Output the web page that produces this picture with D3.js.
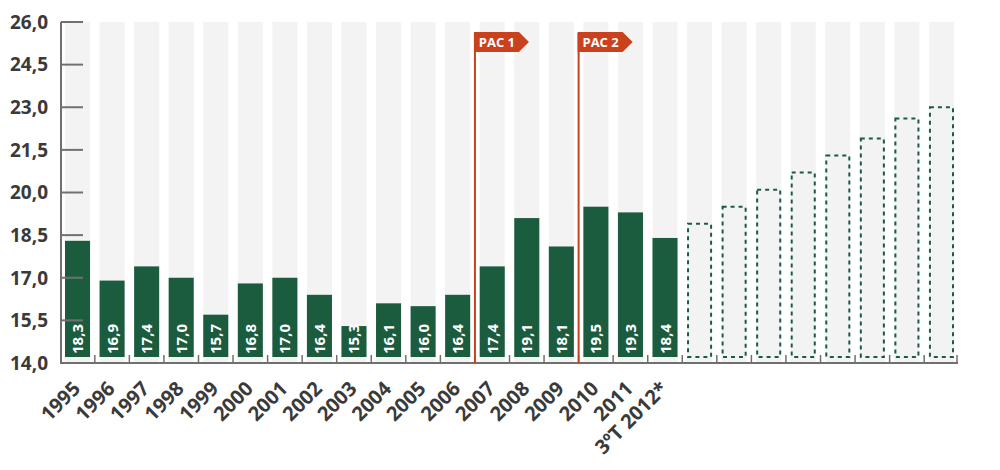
<!DOCTYPE html>
<html><head><meta charset="utf-8">
<script src="https://cdn.jsdelivr.net/npm/d3@7"></script>
<style>
body{margin:0;background:#fff}
text{font-family:"Open Sans","Noto Sans",sans-serif;font-weight:700}
</style>
</head><body>
<svg id="c" width="1000" height="470"></svg>
<script>
const categories = ["1995","1996","1997","1998","1999","2000","2001","2002","2003","2004","2005","2006","2007","2008","2009","2010","2011","3ºT 2012*"];
const values = [18.3,16.9,17.4,17.0,15.7,16.8,17.0,16.4,15.3,16.1,16.0,16.4,17.4,19.1,18.1,19.5,19.3,18.4];
const projected = [18.9,19.5,20.1,20.7,21.3,21.9,22.6,23.0];
const yTicks = [14,15.5,17,18.5,20,21.5,23,24.5,26];
const pacLabels = ["PAC 1","PAC 2"];
const pacStart = ["2007","2010"];

const svg = d3.select("#c");
const projKeys = projected.map((d,i)=>"p"+i);
const slots = categories.concat(projKeys);

const x = d3.scaleBand().domain(slots).range([61,958]).paddingInner(0.275).paddingOuter(0.116);
const y = d3.scaleLinear().domain([14,26]).range([363,22]);
const fmt = v => d3.format(".1f")(v).replace(".", ",");
const green = "#1b5c3f", red = "#c9421d", axisCol = "#707070", txtCol = "#3a3a3a";
const base = y(14), barBottom = y(14) - 6;

// background columns
svg.append("g").selectAll("rect").data(slots).join("rect")
  .attr("x", d=>x(d)).attr("width", x.bandwidth())
  .attr("y", y(26)).attr("height", base - y(26))
  .attr("fill", "#f3f3f3");

// actual bars
svg.append("g").selectAll("rect").data(categories).join("rect")
  .attr("x", d=>x(d)).attr("width", x.bandwidth())
  .attr("y", (d,i)=>y(values[i])).attr("height", (d,i)=>barBottom - y(values[i]))
  .attr("fill", green);

// bar value labels
svg.append("g").selectAll("text").data(categories).join("text")
  .attr("transform", d=>`translate(${x(d)+x.bandwidth()/2+5.5},${barBottom-3}) rotate(-90)`)
  .attr("fill", "#fff").attr("font-size", 15).attr("text-anchor","start")
  .text((d,i)=>fmt(values[i]));

// projected dashed bars
svg.append("g").selectAll("rect").data(projKeys).join("rect")
  .attr("x", d=>x(d)+1).attr("width", x.bandwidth()-2)
  .attr("y", (d,i)=>y(projected[i])).attr("height", (d,i)=>barBottom - y(projected[i]))
  .attr("fill", "none").attr("stroke", green).attr("stroke-width", 2)
  .attr("stroke-dasharray", "4,4");

// y axis
const yAxis = svg.append("g");
yAxis.append("line").attr("x1",61).attr("x2",61).attr("y1",y(26)).attr("y2",base)
  .attr("stroke",axisCol).attr("stroke-width",2);
yAxis.selectAll("line.t").data(yTicks.filter(t=>t>14)).join("line").attr("class","t")
  .attr("x1",61).attr("x2",83).attr("y1",d=>y(d)).attr("y2",d=>y(d))
  .attr("stroke",axisCol).attr("stroke-width",2);
yAxis.selectAll("text").data(yTicks).join("text")
  .attr("x",48).attr("y",d=>y(d)).attr("dy","0.36em").attr("text-anchor","end")
  .attr("font-size",19).attr("fill",txtCol).text(d=>fmt(d));

// x axis line and ticks
const xAxis = svg.append("g");
xAxis.append("line").attr("x1",60).attr("x2",958).attr("y1",base).attr("y2",base)
  .attr("stroke",axisCol).attr("stroke-width",2);
const gap = x.step()*x.paddingInner();
const bounds = slots.slice(1).map(d=>x(d)-gap/2).concat([957]);
xAxis.selectAll("line.t").data(bounds).join("line").attr("class","t")
  .attr("x1",d=>d).attr("x2",d=>d).attr("y1",base-8).attr("y2",base)
  .attr("stroke",axisCol).attr("stroke-width",1.5);

// x labels
svg.append("g").selectAll("text").data(categories).join("text")
  .attr("transform", d=>`translate(${x(d)+x.bandwidth()/2+4},${base+27}) rotate(-45)`)
  .attr("text-anchor","end").attr("font-size",20).attr("fill",txtCol)
  .text(d=>d);

// PAC flags
pacStart.forEach((c,i)=>{
  const px = x(c) - gap/2;
  const g = svg.append("g");
  g.append("line").attr("x1",px).attr("x2",px).attr("y1",33).attr("y2",base)
    .attr("stroke",red).attr("stroke-width",2);
  g.append("path").attr("d",`M${px-1},32 H${px+44} L${px+54},42 L${px+44},52 H${px-1} Z`)
    .attr("fill",red);
  g.append("text").attr("x",px+22).attr("y",42).attr("dy","0.36em")
    .attr("text-anchor","middle").attr("font-size",13).attr("fill","#fff")
    .text(pacLabels[i]);
});
</script>
</body></html>
